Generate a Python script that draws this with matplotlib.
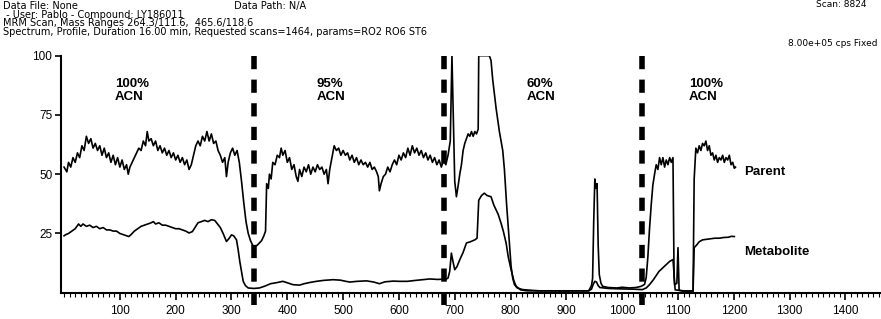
import numpy as np
import matplotlib
matplotlib.use("Agg")
import matplotlib.pyplot as plt
from matplotlib.ticker import MultipleLocator

# parent trace (scan number, % of full scale)
parent_x = [0, 5, 8, 12, 16, 20, 24, 28, 32, 36, 40, 44, 48, 52, 56, 60, 64, 68, 72, 76,
            80, 84, 88, 92, 96, 100, 104, 108, 112, 115, 118, 122, 126, 130, 134, 138, 142, 146, 149, 152,
            156, 160, 164, 168, 172, 176, 180, 184, 188, 192, 196, 200, 204, 208, 212, 216, 220, 224, 228, 232,
            236, 240, 244, 248, 252, 256, 260, 264, 268, 272, 276, 280, 284, 288, 291, 294, 298, 302, 306, 310,
            314, 318, 322, 326, 330, 334, 338, 342, 346, 350, 354, 358, 361, 363, 366, 368, 371, 374, 378, 382,
            386, 389, 392, 396, 400, 404, 408, 412, 416, 419, 422, 426, 430, 434, 438, 442, 446, 450, 454, 458,
            462, 466, 470, 473, 476, 480, 484, 488, 492, 496, 500, 504, 508, 512, 516, 520, 524, 528, 532, 536,
            540, 544, 548, 552, 556, 560, 563, 565, 568, 572, 576, 580, 584, 588, 592, 596, 600, 604, 608, 612,
            616, 620, 624, 628, 632, 636, 640, 644, 648, 652, 656, 660, 664, 668, 672, 676, 680, 684, 688, 692,
            695, 697, 700, 703, 706, 709, 712, 715, 718, 721, 724, 727, 730, 733, 736, 739, 742, 743, 762, 765,
            768, 771, 774, 777, 780, 783, 786, 789, 793, 797, 801, 804, 807, 812, 822, 850, 900, 940, 945, 947,
            949, 951, 953, 955, 957, 959, 962, 965, 975, 990, 1000, 1013, 1025, 1034, 1040, 1043, 1046, 1049, 1052, 1055,
            1058, 1061, 1064, 1067, 1070, 1073, 1076, 1079, 1082, 1085, 1088, 1091, 1093, 1095, 1110, 1127, 1129, 1132, 1135, 1138,
            1141, 1144, 1147, 1150, 1153, 1156, 1159, 1162, 1165, 1168, 1171, 1174, 1177, 1180, 1183, 1186, 1189, 1192, 1195, 1198,
            1201, 1203]
parent_y = [53, 51, 55, 53, 57, 55, 59, 57, 62, 60, 66, 63, 65, 61, 63, 60, 62, 58, 61, 57,
            59, 55, 58, 54, 57, 53, 56, 52, 54, 50, 53, 55, 57, 59, 61, 60, 64, 62, 68, 64,
            65, 62, 64, 60, 62, 59, 61, 58, 60, 57, 59, 56, 58, 55, 57, 54, 56, 52, 54, 58,
            62, 64, 62, 66, 64, 68, 64, 67, 63, 64, 60, 58, 55, 57, 49, 55, 59, 61, 58, 60,
            55, 47, 38, 30, 25, 22, 20, 19.5, 20, 21, 22, 24, 26, 46, 44, 50, 48, 55, 54, 58,
            57, 61, 58, 60, 55, 57, 52, 54, 49, 47, 52, 49, 53, 51, 54, 50, 53, 51, 54, 52,
            53, 50, 52, 46, 52, 57, 62, 60, 61, 58, 60, 58, 59, 56, 58, 55, 57, 54, 56, 54,
            55, 53, 55, 52, 53, 51, 49, 43, 46, 49, 50, 53, 51, 54, 56, 54, 58, 56, 59, 57,
            61, 58, 62, 59, 61, 58, 60, 57, 59, 56, 58, 55, 57, 54, 56, 53, 56, 54, 58, 64,
            100, 78, 47, 40.5, 45, 50, 54, 60, 63, 65, 67, 66, 68, 66, 68, 67, 69, 100, 100, 98,
            90, 84, 78, 73, 68, 64, 60, 52, 37, 24, 11, 6, 3.4, 2, 1.3, 0.8, 0.7, 0.8, 3, 6,
            30, 48, 44, 46, 20, 7.6, 4, 2.7, 2.2, 2.0, 2.3, 2.0, 2.2, 2.7, 3.5, 6.3, 15, 27, 37, 45.5,
            50, 54, 52, 57, 54, 57, 53, 56, 54, 57, 55, 57, 6.3, 1.2, 0.8, 0.8, 48, 61, 59, 62,
            60, 63, 62, 64, 60, 62, 58, 59, 56, 58, 55, 57, 56, 58, 55, 57, 56, 58, 54, 55,
            52.5, 53]

# metabolite trace
metab_x = [0, 3, 8, 14, 20, 26, 30, 34, 40, 46, 52, 58, 64, 70, 76, 82, 88, 94, 100, 106,
           112, 116, 120, 126, 132, 138, 144, 150, 156, 160, 164, 170, 176, 182, 188, 194, 200, 206, 212, 218,
           224, 230, 236, 240, 246, 252, 258, 264, 270, 275, 280, 285, 291, 296, 300, 304, 309, 312, 315, 318,
           321, 325, 330, 340, 350, 360, 370, 380, 392, 400, 410, 422, 430, 440, 452, 465, 482, 495, 505, 512,
           525, 542, 555, 565, 575, 590, 601, 615, 630, 655, 670, 685, 688, 691, 694, 697, 700, 704, 709, 715,
           721, 728, 736, 740, 743, 748, 753, 758, 765, 770, 774, 778, 783, 787, 792, 796, 801, 806, 810, 818,
           830, 940, 945, 948, 951, 954, 957, 960, 975, 1000, 1020, 1036, 1043, 1049, 1056, 1066, 1075, 1085, 1091, 1093,
           1094, 1098, 1100, 1102, 1110, 1127, 1129, 1133, 1138, 1144, 1150, 1158, 1166, 1174, 1182, 1190, 1196, 1201]
metab_y = [24, 24.5, 25, 26, 27, 29, 28, 29, 28, 28.5, 27.5, 28, 27, 27.5, 26.5, 26.5, 26, 26, 25, 24.5,
           24, 23.7, 24.5, 26, 27, 28, 28.5, 29, 29.5, 30, 29, 29.5, 28.5, 28.5, 28, 27.5, 27, 27, 26.5, 26,
           25.2, 25.8, 28, 29.5, 30, 30.5, 30, 30.8, 30.5, 29, 27.5, 25, 21.6, 23, 24.4, 24, 22.3, 18, 13, 9,
           4.8, 3, 2, 1.8, 2, 2.8, 3.8, 4.2, 4.8, 4.2, 3.4, 3.2, 3.8, 4.3, 4.8, 5.2, 5.5, 5.3, 4.8, 4.5,
           4.8, 5, 4.5, 3.8, 4.6, 4.9, 4.8, 4.8, 5.2, 5.8, 5.6, 5.8, 6.2, 9, 16.7, 13, 9.7, 11, 13.9, 17,
           21, 21.5, 22.3, 23, 39, 41, 42, 41, 40.5, 37, 35, 33, 29.3, 26, 21, 15, 9.7, 5, 2.7, 1.2,
           0.8, 0.8, 1.5, 3.5, 4.8, 4.5, 3, 2.2, 1.8, 1.6, 1.5, 1.3, 2, 3.4, 5.5, 9, 11, 13.2, 14, 8,
           3.4, 4, 19, 1, 0.6, 0.6, 19, 20, 21.5, 22.3, 22.5, 22.8, 23, 23, 23.3, 23.4, 23.8, 23.7]

# solvent switch positions and labels
switch_x = [341, 680, 1035]
phase_x = [91, 452, 829, 1120]
phase_labels = ["100%\nACN", "95%\nACN", "60%\nACN", "100%\nACN"]

header_lines = [
    "Data File: None" + " " * 50 + "Data Path: N/A",
    " - User: Pablo - Compound: LY186011",
    "MRM Scan, Mass Ranges 264.3/111.6,  465.6/118.6",
    "Spectrum, Profile, Duration 16.00 min, Requested scans=1464, params=RO2 RO6 ST6",
]

plt.rcParams['lines.scale_dashes'] = False
plt.rcParams['font.family'] = ['Liberation Sans', 'DejaVu Sans']

fig = plt.figure(figsize=(8.81, 3.19), dpi=100)
ax = fig.add_axes([0.0689, 0.0824, 0.930, 0.743])

ax.plot(parent_x, parent_y, color='black', lw=1.2)
ax.plot(metab_x, metab_y, color='black', lw=1.2)

for sx in switch_x:
    ax.plot([sx, sx], [100, -5], color='black', lw=4.0,
            linestyle=(0, (9.5, 7.5)), clip_on=False, solid_capstyle='butt')

for px, lab in zip(phase_x, phase_labels):
    ax.text(px, 90.5, lab, ha='left', va='top', fontsize=9.5,
            fontweight='bold', linespacing=1.1)

ax.text(1219, 51, "Parent", ha='left', va='center', fontsize=9.5, fontweight='bold')
ax.text(1219, 17.3, "Metabolite", ha='left', va='center', fontsize=9.5, fontweight='bold')

ax.set_xlim(-6, 1462)
ax.set_ylim(0, 100)
ax.set_yticks([25, 50, 75, 100])
ax.xaxis.set_minor_locator(MultipleLocator(10))
ax.set_xticks(np.arange(100, 1500, 100))
ax.spines['top'].set_visible(False)
ax.spines['right'].set_visible(False)
ax.spines['left'].set_linewidth(1.5)
ax.spines['bottom'].set_linewidth(1.5)
ax.tick_params(axis='y', direction='out', length=4, width=1.2, labelsize=8.5, pad=2)
ax.tick_params(axis='x', which='major', direction='out', length=5, width=1.2, labelsize=8.5, pad=4)
ax.tick_params(axis='x', which='minor', direction='out', length=3, width=0.8)

# instrument header
fig.text(0.003, 1 - 1 / 319, "\n".join(header_lines), fontsize=7, family='DejaVu Sans',
         va='top', ha='left', linespacing=0.82)
fig.text(866 / 881, 1 - 4.5 / 319, "Scan: 8824", ha='right', va='center',
         fontsize=6.5, family='DejaVu Sans')
fig.text(878 / 881, 1 - 44 / 319, "8.00e+05 cps Fixed", ha='right', va='center',
         fontsize=6.5, family='DejaVu Sans')

fig.savefig("out.png", dpi=100)
